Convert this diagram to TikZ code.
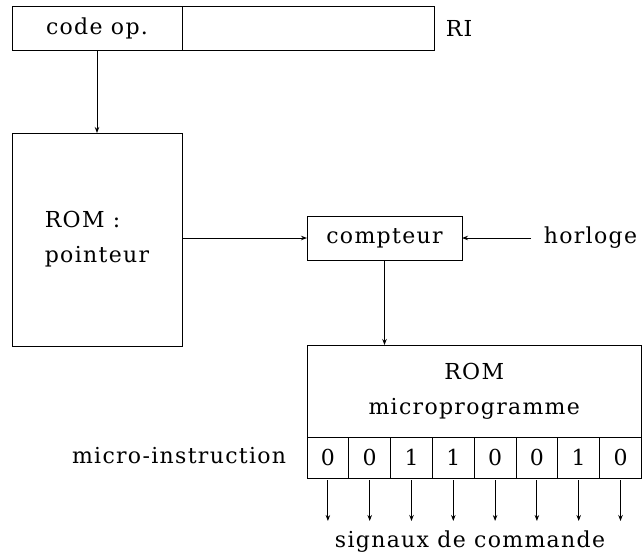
\documentclass[tikz,border=0pt]{standalone}
\usepackage{fontspec}
\setmainfont{DejaVu Serif}[LetterSpace=6]
\usetikzlibrary{arrows.meta}

\begin{document}
\begin{tikzpicture}[x=1pt, y=-1pt, line width=1pt,
    font=\fontsize{22}{35}\selectfont,
    box/.style={draw, inner sep=0pt, outer sep=0pt, align=center},
    fleche/.style={-{Stealth[length=6pt,width=4.5pt]}}]
  \useasboundingbox (0,0) rectangle (642,558);

  % registre RI
  \node[box, minimum width=170, minimum height=44, anchor=north west] (codeop) at (12,6) {code op.};
  \node[box, minimum width=252, minimum height=44, anchor=west] (resteri) at (codeop.east) {};
  \node[anchor=west] (ri) at ([xshift=8pt]resteri.east) {RI};

  % ROM pointeur et compteur
  \node[box, minimum width=170, minimum height=213, anchor=north west, align=left] (pointeur) at (12,133) {ROM :\\pointeur};
  \node[box, minimum width=155, minimum height=44] (compteur) at (384.5,238) {compteur};
  \node[anchor=west] (horloge) at (540,238) {horloge};

  % ROM microprogramme
  \node[box, minimum width=334.5, minimum height=92, anchor=north west] (microprog) at (307,345) {ROM\\microprogramme};
  \foreach \b [count=\i] in {0,0,1,1,0,0,1,0} {
    \node[box, minimum width=41.8, minimum height=41] (bit\i) at (307+\i*41.8-20.9,457.5) {\b};
    \coordinate (sig\i) at ([yshift=-43pt]bit\i.south);
    \draw[fleche, shorten <=2pt] (bit\i.south) -- (sig\i);
  }
  \node[anchor=base east] (microinstr) at (290,463) {micro-instruction};
  \node[anchor=base] (signaux) at (470,547) {signaux de commande};

  \draw[fleche] (codeop.south) -- (pointeur.north);
  \draw[fleche] (pointeur.east |- compteur.west) -- (compteur.west);
  \draw[fleche, shorten <=9pt] (horloge.west) -- (compteur.east);
  \draw[fleche] (compteur.south) -- (compteur.south |- microprog.north);
\end{tikzpicture}
\end{document}
